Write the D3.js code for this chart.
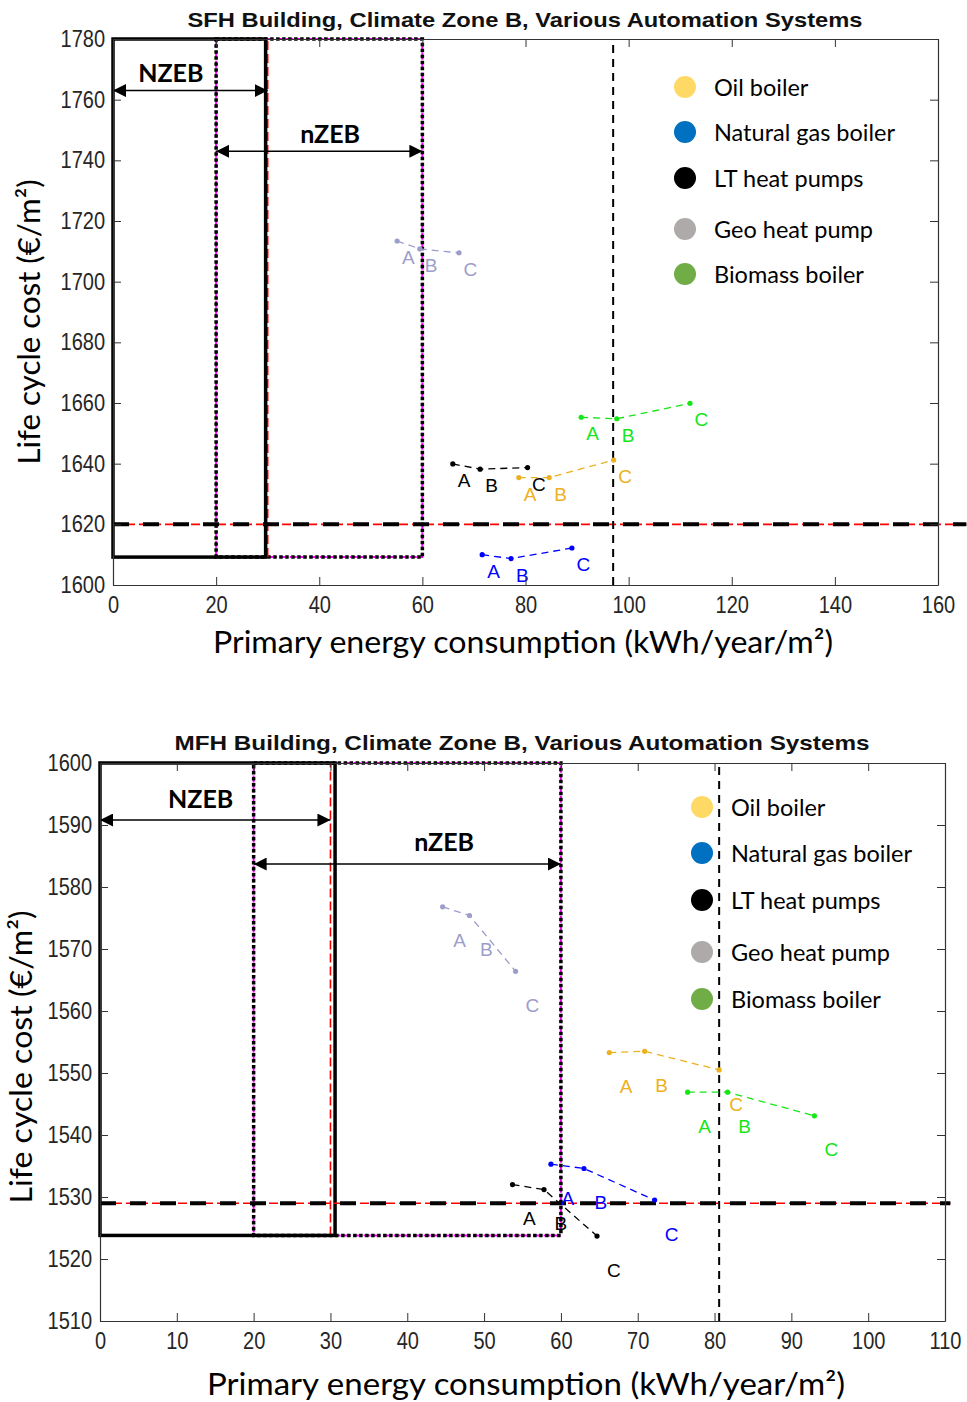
<!DOCTYPE html>
<html lang="en">
<head>
<meta charset="UTF-8">
<title>Life cycle cost vs primary energy</title>
<style>
  body, html { margin: 0; padding: 0; background: #fff; }
  svg { display: block; }
</style>
</head>
<body>
<svg id="svg" width="967" height="1402"></svg>
<script src="https://d3js.org/d3.v7.min.js"></script>
<script>
const systems = ['Oil boiler', 'Natural gas boiler', 'LT heat pumps', 'Geo heat pump', 'Biomass boiler']
const variants = ['A', 'B', 'C']
const legendColors = ['#ffd966', '#0070c0', '#000000', '#aeaaaa', '#70ad47']
const lineColors = ['#edb120', '#0000ff', '#000000', '#9d9dcb', '#16e616']

// primary energy (kWh/year/m2) and life cycle cost (€/m2), one row per system, variants A B C
const sfhEnergy = [[78.7, 84.6, 97.1], [71.6, 77.2, 89.0], [65.9, 71.2, 80.4], [55.1, 59.5, 67.1], [90.8, 97.7, 111.9]]
const sfhCost = [[1635.4, 1635.4, 1641.2], [1610.0, 1608.7, 1612.2], [1639.9, 1638.2, 1638.7], [1713.4, 1710.8, 1709.5], [1655.3, 1654.8, 1659.9]]
const mfhEnergy = [[66.3, 70.9, 80.6], [58.7, 63.0, 72.2], [53.7, 57.8, 64.7], [44.6, 48.1, 54.1], [76.5, 81.7, 93.0]]
const mfhCost = [[1553.3, 1553.5, 1550.5], [1535.3, 1534.6, 1529.5], [1532.0, 1531.2, 1523.7], [1576.8, 1575.4, 1566.4], [1546.9, 1546.9, 1543.1]]

const sfhXTicks = [0, 20, 40, 60, 80, 100, 120, 140, 160]
const sfhYTicks = [1600, 1620, 1640, 1660, 1680, 1700, 1720, 1740, 1760, 1780]
const mfhXTicks = [0, 10, 20, 30, 40, 50, 60, 70, 80, 90, 100, 110]
const mfhYTicks = [1510, 1520, 1530, 1540, 1550, 1560, 1570, 1580, 1590, 1600]

// zones [x0, x1, y0, y1] in data units
const sfhNzeb = [0, 29.6, 1609.2, 1780]
const sfhNzebWide = [20, 60, 1609.2, 1780]
const mfhNzeb = [0, 30.6, 1523.8, 1600]
const mfhNzebWide = [20, 60, 1523.8, 1600]
// reference lines
const sfhCostRef = 1620, sfhEnergyRef = 97.0
const mfhCostRef = 1529, mfhEnergyRef = 80.6
// arrows [x0, x1, y] and labels [x, y]
const sfhArrows = [[0, 30, 1763], [20, 60, 1743]]
const sfhArrowLabels = [[11.2, 1769], [42.1, 1749]]
const mfhArrows = [[0, 30, 1590.8], [20, 60, 1583.7]]
const mfhArrowLabels = [[13.1, 1594.4], [44.8, 1587.4]]
const zoneNames = ['NZEB', 'nZEB']

const svg = d3.select('#svg')

const defs = svg.append('defs')
defs.append('marker').attr('id', 'arrowEnd')
  .attr('viewBox', '0 0 10 10').attr('refX', 10).attr('refY', 5)
  .attr('markerWidth', 13).attr('markerHeight', 13).attr('markerUnits', 'userSpaceOnUse')
  .attr('orient', 'auto')
  .append('path').attr('d', 'M0,0 L10,5 L0,10 Z').attr('fill', '#000')
defs.append('marker').attr('id', 'arrowStart')
  .attr('viewBox', '0 0 10 10').attr('refX', 0).attr('refY', 5)
  .attr('markerWidth', 13).attr('markerHeight', 13).attr('markerUnits', 'userSpaceOnUse')
  .attr('orient', 'auto')
  .append('path').attr('d', 'M10,0 L0,5 L10,10 Z').attr('fill', '#000')

function drawChart(c) {
  const g = svg.append('g')
  const x = d3.scaleLinear().domain(c.xDomain).range(c.xRange)
  const y = d3.scaleLinear().domain(c.yDomain).range(c.yRange)

  // wide zone: magenta dashes under black dots
  const wide = c.wide
  const wideRect = g.append('g')
  ;[['#ff00ff', 2, '7,3'], ['#000', 3.5, '3.5,2.5']].forEach(([col, w, dash]) => {
    wideRect.append('rect')
      .attr('x', x(wide[0])).attr('y', y(wide[3]))
      .attr('width', x(wide[1]) - x(wide[0])).attr('height', y(wide[2]) - y(wide[3]))
      .attr('fill', 'none').attr('stroke', col).attr('stroke-width', w)
      .attr('stroke-dasharray', dash)
  })

  // strict zone: red dashed edges, then solid black box
  const z = c.zone
  g.selectAll('line.redEdge').data([0, 30]).enter().append('line')
    .attr('class', 'redEdge')
    .attr('x1', d => x(d)).attr('x2', d => x(d))
    .attr('y1', y(z[2])).attr('y2', y(z[3]))
    .attr('stroke', '#ff0000').attr('stroke-width', 1.6).attr('stroke-dasharray', '9,4')
  g.append('rect')
    .attr('x', x(z[0])).attr('y', y(z[3]))
    .attr('width', x(z[1]) - x(z[0])).attr('height', y(z[2]) - y(z[3]))
    .attr('fill', 'none').attr('stroke', '#000').attr('stroke-width', 3.5)

  // cost reference line
  g.append('line')
    .attr('x1', x(c.xDomain[0])).attr('x2', x(c.refEnd))
    .attr('y1', y(c.costRef)).attr('y2', y(c.costRef))
    .attr('stroke', '#ff0000').attr('stroke-width', 1.6).attr('stroke-dasharray', '9,4')
  g.append('line')
    .attr('x1', x(c.xDomain[0])).attr('x2', x(c.refEnd))
    .attr('y1', y(c.costRef)).attr('y2', y(c.costRef))
    .attr('stroke', '#000').attr('stroke-width', 4).attr('stroke-dasharray', '16,14')

  // energy reference line
  g.append('line')
    .attr('x1', x(c.energyRef)).attr('x2', x(c.energyRef))
    .attr('y1', y(c.yDomain[0])).attr('y2', y(c.yDomain[1]))
    .attr('stroke', '#000').attr('stroke-width', 2).attr('stroke-dasharray', '8,6')

  // arrows
  g.selectAll('line.arrow').data(c.arrows).enter().append('line')
    .attr('class', 'arrow')
    .attr('x1', d => x(d[0])).attr('x2', d => x(d[1]))
    .attr('y1', d => y(d[2])).attr('y2', d => y(d[2]))
    .attr('stroke', '#000').attr('stroke-width', 1.5)
    .attr('marker-start', 'url(#arrowStart)').attr('marker-end', 'url(#arrowEnd)')
  g.selectAll('text.zone').data(c.arrowLabels).enter().append('text')
    .attr('class', 'zone')
    .attr('x', d => x(d[0])).attr('y', d => y(d[1]))
    .attr('text-anchor', 'middle').attr('dominant-baseline', 'central')
    .style('font-family', 'Lato, "Open Sans", sans-serif').style('font-weight', 'bold')
    .style('font-size', '25px')
    .text((d, i) => zoneNames[i])

  // series
  systems.forEach((s, i) => {
    const pts = variants.map((v, j) => ({ v, e: c.energy[i][j], cost: c.cost[i][j] }))
    const sg = g.append('g')
    sg.append('path').datum(pts)
      .attr('d', d3.line().x(d => x(d.e)).y(d => y(d.cost)))
      .attr('fill', 'none').attr('stroke', lineColors[i]).attr('stroke-width', 1.3)
      .attr('stroke-dasharray', '7,5')
    sg.selectAll('circle').data(pts).enter().append('circle')
      .attr('cx', d => x(d.e)).attr('cy', d => y(d.cost)).attr('r', 2.6)
      .attr('fill', lineColors[i])
    sg.selectAll('text').data(pts).enter().append('text')
      .attr('x', d => x(d.e + 2.2)).attr('y', d => y(d.cost - 5.5))
      .attr('text-anchor', 'middle').attr('dominant-baseline', 'central')
      .attr('fill', lineColors[i])
      .style('font-family', '"Liberation Sans", Arial, sans-serif').style('font-size', '19px')
      .text(d => d.v)
  })

  // axes, inward ticks on every side
  const axisColor = '#333'
  const xB = g.append('g').attr('transform', `translate(0,${c.yRange[0]})`)
    .call(d3.axisBottom(x).tickValues(c.xTicks).tickFormat(d3.format('d'))
      .tickSize(-8).tickSizeOuter(0).tickPadding(12))
  const xT = g.append('g').attr('transform', `translate(0,${c.yRange[1]})`)
    .call(d3.axisTop(x).tickValues(c.xTicks).tickSize(-8).tickSizeOuter(0).tickFormat(''))
  const yL = g.append('g').attr('transform', `translate(${c.xRange[0]},0)`)
    .call(d3.axisLeft(y).tickValues(c.yTicks).tickFormat(d3.format('d'))
      .tickSize(-8).tickSizeOuter(0).tickPadding(8))
  const yR = g.append('g').attr('transform', `translate(${c.xRange[1]},0)`)
    .call(d3.axisRight(y).tickValues(c.yTicks).tickSize(-8).tickSizeOuter(0).tickFormat(''))
  ;[xB, xT, yL, yR].forEach(a => {
    a.select('.domain').attr('stroke', axisColor).attr('stroke-width', 1.2)
    a.selectAll('.tick line').attr('stroke', axisColor)
    a.selectAll('.tick text')
      .attr('fill', '#262626')
      .style('font-family', '"Liberation Sans", Arial, sans-serif').style('font-size', '23px')
  })
  xB.selectAll('.tick text').attr('transform', 'scale(0.87,1)')
  yL.selectAll('.tick text').attr('x', -8 / 0.87).attr('transform', 'scale(0.87,1)')

  // title and axis titles
  g.append('text')
    .attr('x', c.titlePos[0]).attr('y', c.titlePos[1])
    .attr('text-anchor', 'middle')
    .attr('textLength', c.titleWidth).attr('lengthAdjust', 'spacingAndGlyphs')
    .style('font-family', '"Liberation Sans", Arial, sans-serif').style('font-weight', 'bold')
    .style('font-size', '21px').attr('fill', '#111')
    .text(c.title)
  g.append('text')
    .attr('x', c.xLabelPos[0]).attr('y', c.xLabelPos[1])
    .attr('text-anchor', 'middle')
    .attr('textLength', c.xLabelWidth).attr('lengthAdjust', 'spacingAndGlyphs')
    .style('font-family', 'Lato, "Open Sans", sans-serif').style('font-size', '31px')
    .text('Primary energy consumption (kWh/year/m²)')
  g.append('text')
    .attr('transform', `translate(${c.yLabelPos[0]},${c.yLabelPos[1]}) rotate(-90)`)
    .attr('text-anchor', 'middle')
    .attr('textLength', c.yLabelWidth).attr('lengthAdjust', 'spacingAndGlyphs')
    .style('font-family', 'Lato, "Open Sans", sans-serif').style('font-size', '30px')
    .text('Life cycle cost (€/m²)')

  // legend
  const lg = g.append('g')
  systems.forEach((s, i) => {
    lg.append('circle').attr('cx', c.legendX).attr('cy', c.legendY[i]).attr('r', 11)
      .attr('fill', legendColors[i])
    lg.append('text').attr('x', c.legendX + 29).attr('y', c.legendY[i])
      .attr('dominant-baseline', 'central')
      .style('font-family', 'Lato, "Open Sans", sans-serif').style('font-size', '23.5px')
      .text(s)
  })
}

drawChart({
  title: 'SFH Building, Climate Zone B, Various Automation Systems',
  titlePos: [525, 27], titleWidth: 675,
  xLabelPos: [523, 653], xLabelWidth: 620,
  yLabelPos: [40, 322], yLabelWidth: 285,
  xDomain: [0, 160], xRange: [113, 938],
  yDomain: [1600, 1780], yRange: [585, 39],
  xTicks: sfhXTicks, yTicks: sfhYTicks,
  energy: sfhEnergy, cost: sfhCost,
  zone: sfhNzeb, wide: sfhNzebWide,
  costRef: sfhCostRef, energyRef: sfhEnergyRef, refEnd: 165.5,
  arrows: sfhArrows, arrowLabels: sfhArrowLabels,
  legendX: 685, legendY: [87, 132, 178, 229, 274]
})

drawChart({
  title: 'MFH Building, Climate Zone B, Various Automation Systems',
  titlePos: [522, 750], titleWidth: 695,
  xLabelPos: [526, 1395], xLabelWidth: 638,
  yLabelPos: [32, 1057], yLabelWidth: 293,
  xDomain: [0, 110], xRange: [100, 945],
  yDomain: [1510, 1600], yRange: [1321, 763],
  xTicks: mfhXTicks, yTicks: mfhYTicks,
  energy: mfhEnergy, cost: mfhCost,
  zone: mfhNzeb, wide: mfhNzebWide,
  costRef: mfhCostRef, energyRef: mfhEnergyRef, refEnd: 110.7,
  arrows: mfhArrows, arrowLabels: mfhArrowLabels,
  legendX: 702, legendY: [807, 853, 900, 952, 999]
})
</script>
</body>
</html>
